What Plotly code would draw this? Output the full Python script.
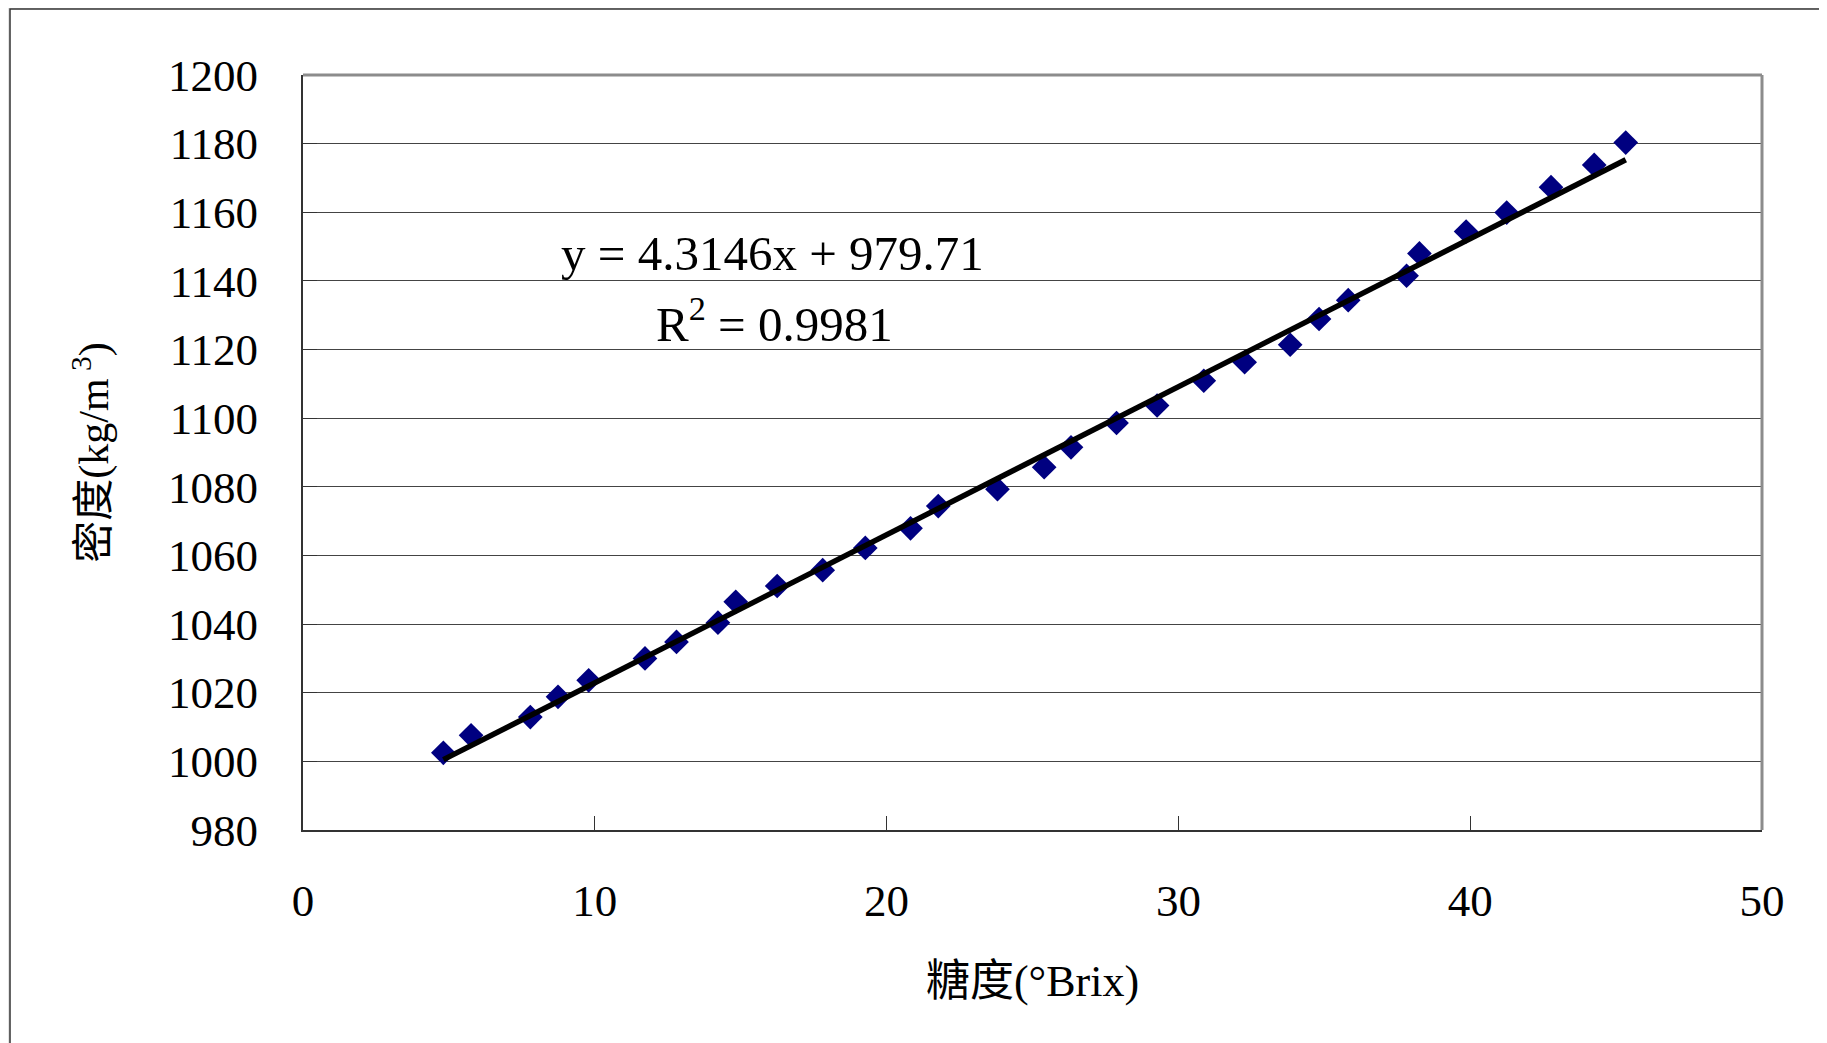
import plotly.graph_objects as go

# Measured data (sugar content °Brix vs density kg/m3)
brix = [4.81, 5.76, 7.79, 8.74, 9.79, 11.72, 12.80, 14.22, 14.83, 16.25,
        17.81, 19.27, 20.82, 21.77, 23.80, 25.40, 26.32, 27.88, 29.27, 30.87,
        32.27, 33.83, 34.82, 35.82, 37.82, 38.26, 39.86, 41.25, 42.77, 44.25, 45.33]
density = [1002.5, 1007.6, 1012.9, 1018.8, 1023.6, 1030.0, 1034.8, 1040.4, 1046.5, 1051.1,
           1055.7, 1062.2, 1067.9, 1074.4, 1079.3, 1085.7, 1091.5, 1098.6, 1103.7, 1110.9,
           1116.3, 1121.4, 1128.9, 1134.4, 1141.5, 1148.0, 1154.4, 1159.9, 1167.3, 1173.8, 1180.3]

# Trend line vertices
trend_x = [4.81, 5.76, 7.79, 8.74, 9.79, 11.72, 12.80, 14.22, 14.83, 16.25,
           17.81, 19.27, 20.82, 21.77, 23.80, 25.40, 26.32, 27.88, 29.27, 30.87,
           32.27, 33.83, 34.82, 35.82, 37.82, 38.26, 39.86, 41.25, 42.77, 44.25, 45.33]
trend_y = [1000.5, 1004.6, 1013.3, 1017.4, 1022.0, 1030.3, 1035.0, 1041.1, 1043.7, 1049.8,
           1056.6, 1062.8, 1069.5, 1073.6, 1082.4, 1089.2, 1093.2, 1099.9, 1105.9, 1112.7,
           1118.9, 1125.7, 1129.9, 1134.3, 1142.9, 1144.8, 1151.7, 1157.7, 1164.2, 1170.6, 1175.3]

x_ticks = [0, 10, 20, 30, 40, 50]
y_ticks = [980, 1000, 1020, 1040, 1060, 1080, 1100, 1120, 1140, 1160, 1180, 1200]

eq_text = "y = 4.3146x + 979.71"
r2_text = "R<sup>2</sup> = 0.9981"
x_title = "糖度(°Brix)"
y_title = "密度(kg/m<sup> 3</sup>)"

FONT = "Liberation Serif, Noto Sans CJK TC, serif"

fig = go.Figure()
fig.add_trace(go.Scatter(
    x=brix, y=density, mode="markers",
    marker=dict(symbol="diamond", size=19, color="#000080"),
    showlegend=False, hoverinfo="x+y"))
fig.add_trace(go.Scatter(
    x=trend_x, y=trend_y, mode="lines",
    line=dict(color="black", width=5.5),
    showlegend=False))

W, H = 1827, 1043
OFF = 8  # page body offset
L, R, T, B = 303 - OFF, 65 + OFF, 75 - OFF, 213 + OFF
pw, ph = W - L - R, H - T - B

def px2paper_x(px):
    return (px - (L + OFF)) / pw

def py2paper_y(py):
    return ((T + OFF + ph) - py) / ph

shapes = [
    # outer white chart frame
    dict(type="rect", xref="paper", yref="paper",
         x0=px2paper_x(10), x1=px2paper_x(1824), y0=py2paper_y(1080), y1=py2paper_y(9),
         fillcolor="white", line=dict(color="#333333", width=1.5), layer="below"),
    # top and right plot border (grey)
    dict(type="line", xref="paper", yref="paper", x0=0, x1=1, y0=1, y1=1,
         line=dict(color="#8c8c8c", width=3), layer="above"),
    dict(type="line", xref="paper", yref="paper", x0=1, x1=1, y0=0, y1=1,
         line=dict(color="#8c8c8c", width=3), layer="above"),
]

fig.update_layout(
    width=W, height=H,
    margin=dict(l=L, r=R, t=T, b=B, pad=0),
    paper_bgcolor="#e4e4e4",
    plot_bgcolor="white",
    font=dict(family=FONT, size=45, color="black"),
    shapes=shapes,
    xaxis=dict(
        range=[0, 50], tickvals=x_ticks, ticktext=[str(v) for v in x_ticks],
        showgrid=False, zeroline=False,
        showline=True, linecolor="#333333", linewidth=2,
        ticks="inside", ticklen=14, tickcolor="#333333", tickwidth=1,
        ticklabelstandoff=30,
        tickfont=dict(family=FONT, size=45),
        title=dict(text=x_title, font=dict(family=FONT, size=44), standoff=40),
    ),
    yaxis=dict(
        range=[980, 1200], tickvals=y_ticks, ticktext=[str(v) for v in y_ticks],
        showgrid=True, gridcolor="#444444", gridwidth=1.2,
        zeroline=False,
        showline=True, linecolor="#333333", linewidth=2,
        ticks="inside", ticklen=14, tickcolor="#333333", tickwidth=1,
        ticklabelstandoff=34,
        tickfont=dict(family=FONT, size=45),
        title=dict(text=y_title, font=dict(family=FONT, size=42), standoff=46),
    ),
    annotations=[
        dict(x=16.1, y=1148.1, xref="x", yref="y", text=eq_text, showarrow=False,
             font=dict(family=FONT, size=49), xanchor="center", yanchor="middle"),
        dict(x=16.15, y=1128.6, xref="x", yref="y", text=r2_text, showarrow=False,
             font=dict(family=FONT, size=49), xanchor="center", yanchor="middle"),
    ],
)

fig.write_html("out.html")
